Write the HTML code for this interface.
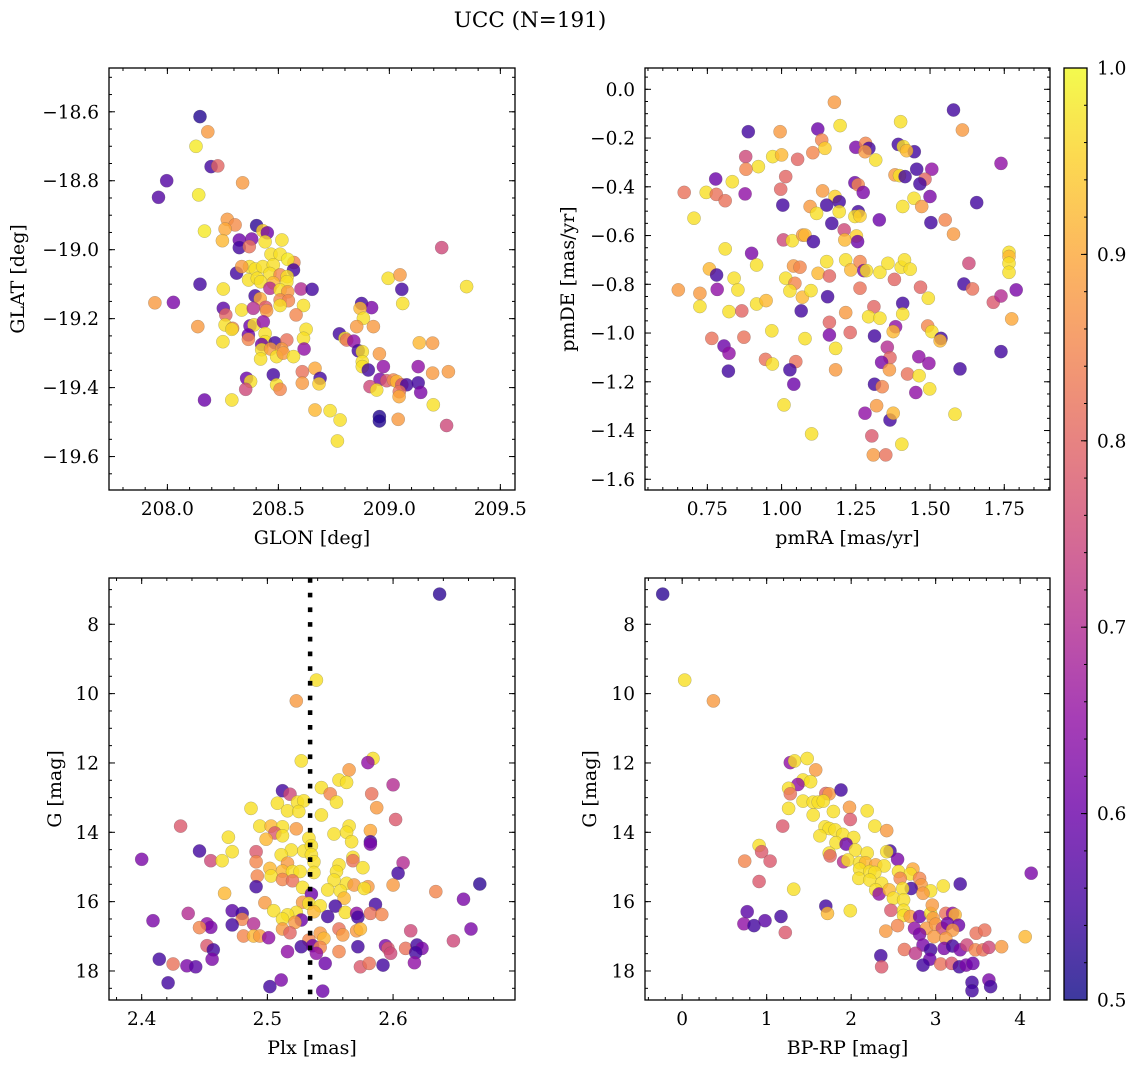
<!DOCTYPE html>
<html><head><meta charset="utf-8">
<style>
html,body{margin:0;padding:0;background:#fff;}
svg{display:block;font-family:"DejaVu Serif","Liberation Serif",serif;}
</style></head>
<body>
<svg id="fig" width="1136" height="1067" viewBox="0 0 1136 1067" xmlns="http://www.w3.org/2000/svg">
<text x="530" y="27" text-anchor="middle" font-size="21.5">UCC (N=191)</text>
</svg>
<script>
// ---------- data: [x, y, membership probability] ----------
const glonGlat = [[208.147,-18.614,0.52],[208.182,-18.658,0.88],[208.129,-18.70,0.98],[208.197,-18.759,0.55],[208.227,-18.757,0.8],[207.997,-18.80,0.57],[207.96,-18.848,0.57],[208.339,-18.806,0.88],[208.141,-18.841,0.98],[208.167,-18.946,0.98],[208.27,-18.912,0.88],[208.305,-18.928,0.86],[208.26,-18.94,0.9],[208.248,-18.974,0.92],[208.324,-18.972,0.6],[208.38,-18.969,0.62],[208.324,-18.994,0.55],[208.369,-18.991,0.82],[208.402,-18.93,0.53],[208.43,-18.945,0.95],[208.45,-18.951,0.6],[208.44,-18.977,0.97],[208.516,-18.972,0.97],[208.467,-19.013,0.97],[208.508,-19.013,0.97],[208.57,-19.037,0.85],[208.542,-19.028,0.98],[208.37,-19.049,0.97],[208.396,-19.056,0.97],[208.43,-19.049,0.97],[208.477,-19.044,0.97],[208.312,-19.068,0.55],[208.335,-19.049,0.88],[208.366,-19.088,0.97],[208.405,-19.083,0.97],[208.462,-19.069,0.97],[208.508,-19.073,0.85],[208.568,-19.059,0.55],[208.54,-19.078,0.97],[208.538,-19.093,0.97],[208.42,-19.093,0.97],[208.477,-19.096,0.92],[208.147,-19.10,0.55],[208.252,-19.114,0.97],[208.462,-19.112,0.7],[208.508,-19.117,0.97],[208.542,-19.122,0.88],[208.602,-19.114,0.7],[208.652,-19.115,0.55],[208.395,-19.134,0.55],[208.418,-19.142,0.9],[208.508,-19.146,0.85],[208.545,-19.148,0.85],[207.944,-19.154,0.88],[208.027,-19.153,0.62],[208.252,-19.17,0.58],[208.335,-19.175,0.97],[208.387,-19.17,0.7],[208.443,-19.167,0.78],[208.447,-19.177,0.88],[208.508,-19.162,0.97],[208.613,-19.162,0.97],[208.263,-19.189,0.8],[208.58,-19.189,0.85],[208.875,-19.156,0.55],[208.92,-19.168,0.62],[208.868,-19.17,0.92],[208.883,-19.199,0.97],[208.137,-19.223,0.88],[208.26,-19.218,0.97],[208.294,-19.228,0.85],[208.29,-19.231,0.97],[208.372,-19.221,0.6],[208.39,-19.218,0.97],[208.432,-19.209,0.65],[208.853,-19.223,0.88],[208.928,-19.223,0.88],[208.625,-19.231,0.97],[208.25,-19.267,0.97],[208.365,-19.247,0.6],[208.365,-19.26,0.85],[208.44,-19.243,0.97],[208.44,-19.267,0.97],[208.485,-19.27,0.55],[208.538,-19.262,0.82],[208.613,-19.257,0.97],[208.775,-19.244,0.55],[208.8,-19.257,0.97],[208.808,-19.262,0.82],[208.84,-19.265,0.65],[208.425,-19.275,0.6],[208.425,-19.29,0.97],[208.465,-19.288,0.88],[208.515,-19.288,0.88],[208.616,-19.288,0.65],[208.86,-19.293,0.55],[208.878,-19.296,0.97],[208.955,-19.302,0.88],[209.135,-19.27,0.92],[209.195,-19.271,0.88],[208.42,-19.317,0.97],[208.492,-19.31,0.97],[208.522,-19.30,0.88],[208.568,-19.31,0.97],[208.878,-19.325,0.97],[208.878,-19.339,0.97],[208.905,-19.349,0.55],[208.973,-19.339,0.65],[209.13,-19.339,0.65],[209.195,-19.358,0.88],[209.266,-19.354,0.88],[208.608,-19.354,0.82],[208.665,-19.344,0.9],[208.688,-19.373,0.55],[208.477,-19.363,0.55],[208.492,-19.392,0.97],[208.508,-19.405,0.85],[208.357,-19.373,0.6],[208.375,-19.382,0.97],[208.353,-19.405,0.75],[208.608,-19.387,0.88],[208.683,-19.389,0.95],[208.958,-19.376,0.62],[208.988,-19.38,0.78],[209.018,-19.378,0.85],[209.033,-19.382,0.92],[209.056,-19.392,0.78],[209.078,-19.392,0.55],[209.13,-19.386,0.55],[208.913,-19.397,0.75],[208.943,-19.407,0.97],[209.045,-19.412,0.82],[209.044,-19.426,0.9],[209.141,-19.414,0.62],[208.167,-19.436,0.6],[208.29,-19.436,0.97],[208.665,-19.465,0.92],[208.733,-19.467,0.97],[208.778,-19.494,0.97],[209.198,-19.45,0.97],[209.04,-19.492,0.88],[208.955,-19.484,0.52],[208.955,-19.497,0.52],[209.258,-19.51,0.75],[208.766,-19.555,0.97],[209.236,-18.994,0.75],[208.995,-19.083,0.97],[209.048,-19.073,0.88],[209.056,-19.115,0.55],[209.06,-19.156,0.97],[209.348,-19.107,0.97]];

const pmraPmde = [[1.178,-0.053,0.88],[1.579,-0.085,0.55],[1.197,-0.149,0.97],[1.401,-0.133,0.97],[0.888,-0.174,0.55],[0.995,-0.174,0.88],[1.122,-0.163,0.6],[1.609,-0.167,0.88],[1.135,-0.208,0.85],[1.146,-0.242,0.95],[1.25,-0.238,0.62],[1.283,-0.222,0.85],[1.294,-0.242,0.55],[1.281,-0.256,0.88],[1.393,-0.226,0.55],[1.41,-0.235,0.97],[1.447,-0.256,0.55],[1.421,-0.252,0.92],[1.317,-0.29,0.97],[1.739,-0.304,0.65],[0.879,-0.276,0.75],[0.97,-0.276,0.97],[1.0,-0.269,0.92],[1.054,-0.287,0.8],[1.105,-0.26,0.85],[0.922,-0.317,0.97],[0.88,-0.328,0.85],[1.455,-0.328,0.55],[1.506,-0.328,0.65],[1.014,-0.358,0.8],[0.778,-0.368,0.6],[0.834,-0.379,0.97],[1.382,-0.351,0.88],[1.397,-0.354,0.97],[1.416,-0.358,0.55],[1.483,-0.369,0.8],[1.466,-0.388,0.55],[1.247,-0.383,0.6],[1.258,-0.392,0.85],[1.275,-0.423,0.62],[0.672,-0.423,0.82],[0.746,-0.423,0.97],[0.78,-0.431,0.82],[0.81,-0.457,0.82],[0.877,-0.429,0.65],[0.997,-0.41,0.8],[1.138,-0.417,0.88],[1.18,-0.44,0.95],[1.194,-0.461,0.55],[1.152,-0.475,0.55],[1.096,-0.481,0.88],[1.118,-0.509,0.97],[1.194,-0.502,0.97],[1.004,-0.475,0.55],[1.258,-0.502,0.55],[1.247,-0.522,0.97],[1.264,-0.52,0.95],[1.408,-0.481,0.97],[1.446,-0.447,0.97],[1.472,-0.481,0.88],[1.5,-0.44,0.62],[1.657,-0.465,0.55],[0.705,-0.529,0.97],[1.169,-0.55,0.55],[1.329,-0.536,0.6],[1.503,-0.547,0.55],[1.551,-0.536,0.85],[1.579,-0.594,0.88],[1.211,-0.577,0.75],[1.252,-0.602,0.95],[1.256,-0.625,0.6],[1.213,-0.618,0.92],[1.006,-0.618,0.75],[1.036,-0.621,0.97],[1.071,-0.598,0.88],[1.079,-0.598,0.92],[1.107,-0.625,0.55],[0.81,-0.655,0.97],[0.899,-0.673,0.62],[0.757,-0.737,0.92],[0.916,-0.721,0.97],[0.781,-0.762,0.55],[0.84,-0.775,0.97],[0.783,-0.821,0.65],[0.652,-0.823,0.88],[0.725,-0.837,0.88],[0.853,-0.823,0.97],[0.725,-0.891,0.97],[0.823,-0.912,0.97],[0.866,-0.909,0.8],[0.916,-0.881,0.97],[0.948,-0.867,0.92],[1.014,-0.775,0.97],[1.04,-0.725,0.88],[1.062,-0.73,0.85],[1.045,-0.796,0.85],[1.028,-0.827,0.97],[1.07,-0.853,0.92],[1.099,-0.826,0.97],[1.066,-0.909,0.55],[1.123,-0.755,0.92],[1.152,-0.707,0.97],[1.161,-0.766,0.8],[1.155,-0.851,0.55],[1.216,-0.7,0.97],[1.233,-0.741,0.92],[1.264,-0.707,0.85],[1.277,-0.744,0.62],[1.286,-0.744,0.97],[1.331,-0.751,0.97],[1.358,-0.714,0.97],[1.403,-0.73,0.97],[1.414,-0.7,0.97],[1.433,-0.738,0.97],[1.264,-0.816,0.82],[1.38,-0.78,0.8],[1.468,-0.812,0.8],[1.494,-0.857,0.97],[1.408,-0.878,0.55],[1.408,-0.922,0.97],[1.631,-0.714,0.75],[1.614,-0.799,0.55],[1.643,-0.819,0.82],[1.713,-0.874,0.78],[1.739,-0.848,0.7],[1.79,-0.823,0.62],[1.766,-0.669,0.97],[1.766,-0.686,0.92],[1.766,-0.714,0.97],[1.766,-0.751,0.97],[1.775,-0.942,0.9],[1.739,-1.076,0.55],[1.216,-0.916,0.88],[1.311,-0.892,0.8],[1.293,-0.933,0.97],[1.331,-0.939,0.97],[0.765,-1.022,0.82],[0.806,-1.053,0.6],[0.823,-1.083,0.65],[0.873,-1.017,0.82],[0.967,-0.991,0.97],[1.079,-1.023,0.97],[1.161,-0.956,0.8],[1.161,-1.008,0.62],[1.231,-0.998,0.8],[1.313,-1.012,0.55],[1.384,-0.974,0.65],[1.376,-0.994,0.92],[1.492,-0.971,0.85],[1.506,-0.994,0.97],[1.537,-1.022,0.55],[1.534,-1.032,0.92],[1.182,-1.063,0.97],[0.946,-1.108,0.82],[0.969,-1.127,0.97],[1.048,-1.117,0.82],[0.821,-1.156,0.55],[1.028,-1.151,0.55],[1.041,-1.21,0.6],[1.182,-1.151,0.88],[1.356,-1.058,0.7],[1.365,-1.101,0.8],[1.337,-1.12,0.62],[1.363,-1.151,0.88],[1.424,-1.168,0.82],[1.462,-1.097,0.65],[1.496,-1.124,0.65],[1.463,-1.175,0.97],[1.499,-1.229,0.97],[1.452,-1.244,0.65],[1.601,-1.147,0.55],[1.313,-1.21,0.55],[1.339,-1.22,0.85],[1.008,-1.295,0.97],[1.281,-1.329,0.65],[1.32,-1.298,0.88],[1.365,-1.357,0.55],[1.376,-1.329,0.92],[1.584,-1.333,0.97],[1.101,-1.414,0.97],[1.304,-1.422,0.78],[1.405,-1.456,0.97],[1.309,-1.5,0.88],[1.351,-1.5,0.82]];

const plxG = [[2.637,7.13,0.53],[2.539,9.61,0.97],[2.523,10.21,0.88],[2.527,11.94,0.97],[2.584,11.87,0.97],[2.58,11.99,0.65],[2.565,12.2,0.88],[2.557,12.49,0.97],[2.563,12.56,0.97],[2.6,12.63,0.7],[2.512,12.8,0.55],[2.518,12.9,0.75],[2.543,12.71,0.97],[2.55,12.89,0.85],[2.555,13.13,0.97],[2.583,12.89,0.82],[2.508,13.16,0.97],[2.524,13.13,0.97],[2.529,13.09,0.97],[2.487,13.31,0.97],[2.516,13.38,0.97],[2.525,13.4,0.97],[2.543,13.5,0.97],[2.587,13.29,0.88],[2.602,13.63,0.78],[2.431,13.82,0.78],[2.494,13.82,0.97],[2.503,13.82,0.92],[2.512,13.84,0.97],[2.523,13.9,0.88],[2.565,13.82,0.97],[2.582,13.95,0.9],[2.506,14.02,0.78],[2.512,14.1,0.97],[2.553,14.05,0.97],[2.563,14.0,0.97],[2.469,14.14,0.97],[2.533,14.17,0.97],[2.499,14.2,0.92],[2.567,14.27,0.97],[2.582,14.27,0.55],[2.582,14.34,0.62],[2.446,14.54,0.55],[2.472,14.56,0.97],[2.491,14.56,0.78],[2.519,14.51,0.97],[2.529,14.54,0.97],[2.535,14.39,0.97],[2.511,14.65,0.97],[2.535,14.65,0.97],[2.4,14.78,0.62],[2.455,14.82,0.75],[2.464,14.82,0.97],[2.491,14.85,0.85],[2.516,14.89,0.88],[2.537,14.85,0.97],[2.568,14.72,0.97],[2.568,14.82,0.82],[2.557,14.94,0.97],[2.608,14.88,0.7],[2.576,15.02,0.97],[2.502,15.04,0.92],[2.512,15.12,0.92],[2.52,15.13,0.97],[2.526,15.13,0.97],[2.537,15.16,0.97],[2.555,15.13,0.97],[2.604,15.18,0.55],[2.492,15.26,0.85],[2.503,15.26,0.97],[2.512,15.36,0.85],[2.52,15.4,0.82],[2.553,15.38,0.97],[2.563,15.47,0.97],[2.569,15.52,0.88],[2.58,15.57,0.88],[2.6,15.52,0.88],[2.491,15.57,0.55],[2.528,15.59,0.97],[2.548,15.66,0.97],[2.558,15.69,0.97],[2.577,15.62,0.97],[2.669,15.49,0.53],[2.634,15.71,0.85],[2.466,15.76,0.92],[2.535,15.78,0.6],[2.561,15.9,0.92],[2.656,15.93,0.62],[2.498,16.03,0.88],[2.528,16.02,0.88],[2.533,16.05,0.97],[2.542,16.12,0.97],[2.554,16.13,0.55],[2.586,16.08,0.55],[2.505,16.26,0.97],[2.523,16.31,0.97],[2.537,16.29,0.92],[2.562,16.31,0.97],[2.437,16.34,0.7],[2.472,16.26,0.58],[2.48,16.34,0.55],[2.571,16.34,0.65],[2.582,16.34,0.82],[2.591,16.37,0.85],[2.516,16.38,0.97],[2.409,16.55,0.62],[2.48,16.51,0.85],[2.512,16.5,0.97],[2.527,16.53,0.6],[2.548,16.43,0.55],[2.572,16.45,0.55],[2.452,16.64,0.65],[2.455,16.74,0.62],[2.446,16.75,0.85],[2.472,16.67,0.55],[2.489,16.64,0.7],[2.522,16.6,0.88],[2.512,16.79,0.88],[2.557,16.79,0.82],[2.571,16.84,0.88],[2.574,16.79,0.92],[2.614,16.84,0.75],[2.662,16.79,0.62],[2.481,16.99,0.85],[2.489,16.99,0.92],[2.494,16.99,0.88],[2.501,17.04,0.65],[2.518,16.9,0.8],[2.533,17.11,0.85],[2.542,16.91,0.88],[2.545,17.06,0.92],[2.56,16.96,0.88],[2.648,17.13,0.75],[2.452,17.27,0.78],[2.457,17.39,0.55],[2.527,17.3,0.55],[2.536,17.27,0.6],[2.542,17.32,0.85],[2.572,17.3,0.55],[2.594,17.27,0.62],[2.596,17.35,0.78],[2.598,17.49,0.75],[2.61,17.35,0.82],[2.619,17.25,0.55],[2.623,17.35,0.62],[2.618,17.47,0.55],[2.516,17.44,0.65],[2.539,17.49,0.65],[2.557,17.44,0.85],[2.414,17.66,0.55],[2.425,17.8,0.82],[2.436,17.85,0.62],[2.443,17.88,0.58],[2.456,17.66,0.62],[2.546,17.78,0.6],[2.574,17.88,0.78],[2.581,17.78,0.82],[2.592,17.83,0.55],[2.617,17.76,0.65],[2.421,18.34,0.55],[2.502,18.45,0.55],[2.511,18.26,0.62],[2.544,18.58,0.6]];

const colorG = [[-0.23,7.13,0.53],[0.03,9.61,0.97],[0.37,10.21,0.88],[1.28,11.99,0.65],[1.33,11.94,0.97],[1.48,11.87,0.97],[1.58,12.2,0.88],[1.43,12.49,0.97],[1.52,12.54,0.97],[1.37,12.62,0.65],[1.26,12.73,0.97],[1.28,12.89,0.82],[1.7,12.88,0.8],[1.74,12.89,0.88],[1.88,12.78,0.55],[1.43,13.1,0.97],[1.55,13.13,0.97],[1.61,13.13,0.97],[1.67,13.1,0.97],[1.26,13.31,0.97],[1.55,13.5,0.97],[1.79,13.4,0.97],[1.98,13.28,0.88],[2.19,13.38,0.97],[1.99,13.63,0.78],[1.19,13.82,0.78],[1.69,13.84,0.97],[1.74,13.89,0.97],[1.81,13.93,0.97],[1.9,14.06,0.97],[1.63,14.1,0.97],[2.03,14.15,0.97],[2.28,13.82,0.97],[2.42,13.95,0.88],[0.91,14.38,0.97],[0.94,14.56,0.78],[1.82,14.3,0.97],[1.94,14.34,0.6],[2.05,14.51,0.97],[2.19,14.6,0.97],[2.46,14.54,0.55],[2.42,14.56,0.97],[2.55,14.78,0.62],[1.74,14.6,0.97],[1.75,14.68,0.8],[0.74,14.83,0.85],[1.04,14.83,0.78],[1.91,14.85,0.7],[1.96,14.8,0.97],[2.1,14.88,0.97],[2.17,14.88,0.92],[2.29,14.94,0.9],[2.39,14.97,0.97],[2.1,15.06,0.97],[2.22,15.13,0.97],[2.28,15.16,0.97],[2.56,15.13,0.97],[2.73,15.06,0.9],[2.7,15.2,0.97],[2.09,15.33,0.97],[2.22,15.38,0.97],[2.36,15.47,0.97],[2.58,15.33,0.85],[2.81,15.33,0.85],[2.83,15.52,0.88],[2.71,15.62,0.55],[2.61,15.62,0.97],[2.29,15.66,0.97],[2.33,15.78,0.65],[2.45,15.66,0.92],[3.29,15.49,0.55],[3.09,15.55,0.97],[2.94,15.69,0.97],[2.85,15.76,0.88],[2.5,15.9,0.97],[2.62,15.95,0.97],[4.13,15.18,0.62],[0.91,15.42,0.78],[1.32,15.64,0.97],[1.7,16.13,0.55],[1.72,16.34,0.92],[1.99,16.26,0.97],[0.77,16.29,0.58],[1.17,16.43,0.55],[0.73,16.64,0.65],[0.85,16.69,0.55],[0.98,16.55,0.58],[1.22,16.89,0.78],[2.47,16.25,0.78],[2.62,16.25,0.97],[2.62,16.4,0.97],[2.7,16.43,0.88],[2.81,16.43,0.6],[2.94,16.34,0.97],[2.96,16.1,0.88],[2.97,16.48,0.88],[3.12,16.34,0.82],[3.2,16.34,0.65],[3.23,16.38,0.92],[2.55,16.69,0.85],[2.75,16.77,0.65],[2.89,16.77,0.88],[3.0,16.65,0.88],[3.08,16.77,0.75],[3.14,16.63,0.6],[3.27,16.68,0.6],[3.2,16.82,0.88],[2.41,16.85,0.88],[2.81,16.94,0.62],[2.98,17.01,0.88],[3.12,17.06,0.88],[3.48,16.91,0.82],[3.58,16.82,0.82],[4.06,17.01,0.92],[2.63,17.38,0.82],[2.85,17.25,0.62],[2.94,17.39,0.55],[3.1,17.35,0.62],[3.2,17.28,0.55],[3.29,17.39,0.62],[3.37,17.25,0.75],[3.47,17.39,0.85],[3.56,17.39,0.82],[3.63,17.32,0.75],[3.78,17.3,0.88],[2.76,17.49,0.72],[2.93,17.66,0.6],[2.85,17.83,0.55],[3.06,17.8,0.82],[3.19,17.78,0.78],[3.28,17.88,0.55],[3.36,17.83,0.62],[3.44,17.78,0.6],[2.35,17.56,0.55],[2.36,17.88,0.78],[3.43,18.33,0.55],[3.43,18.57,0.55],[3.63,18.26,0.62],[3.65,18.45,0.55]];

const plxCut = 2.534;
const cbarTicks = [0.5,0.6,0.7,0.8,0.9,1.0];

const NS = "http://www.w3.org/2000/svg";
const svg = document.getElementById('fig');
function mk(tag, attrs, parent){ const e=document.createElementNS(NS,tag); for(const k in attrs) e.setAttribute(k,attrs[k]); (parent||svg).appendChild(e); return e; }

const stops=[[0,[13,8,135]],[0.1,[65,4,157]],[0.2,[106,0,168]],[0.3,[143,13,164]],[0.4,[177,42,144]],[0.5,[204,71,120]],[0.6,[225,100,98]],[0.7,[242,132,75]],[0.8,[252,166,54]],[0.9,[252,206,37]],[1.0,[240,249,33]]];
function plasma(t){ t=Math.max(0,Math.min(1,t)); for(let i=1;i<stops.length;i++){ if(t<=stops[i][0]){ const a=stops[i-1],b=stops[i]; const f=(t-a[0])/(b[0]-a[0]); const c=a[1].map((v,j)=>Math.round(v+(b[1][j]-v)*f)); return `rgb(${c[0]},${c[1]},${c[2]})`; } } return 'rgb(240,249,33)'; }
function cmap(p){ return plasma((p-0.5)/0.5); }
function fmtMinus(s){ return s.replace('-','\u2212'); }

const TICKFS = 18.5, LABFS = 19;

function panel(cfg){
  const [L,T,R,B]=cfg.box;
  const g=mk('g',{});
  
  
  const sx=v=>L+(v-cfg.xd[0])/(cfg.xd[1]-cfg.xd[0])*(R-L);
  const sy=v=>T+(v-cfg.yd[0])/(cfg.yd[1]-cfg.yd[0])*(B-T);
  const clip=mk('clipPath',{id:'c'+cfg.name},g);
  mk('rect',{x:L,y:T,width:R-L,height:B-T},clip);
  const pts=mk('g',{'clip-path':`url(#c${cfg.name})`},g);
  cfg.data.forEach(d=>{
    const c=mk('circle',{cx:sx(d[0]).toFixed(1),cy:sy(d[1]).toFixed(1),r:6.6,fill:cmap(d[2]),'fill-opacity':0.8,stroke:'#555','stroke-opacity':0.5,'stroke-width':0.4},pts);
    
    
  });
  if(cfg.vline!==undefined){
    const l=mk('line',{x1:sx(cfg.vline),x2:sx(cfg.vline),y1:T,y2:B,stroke:'#000','stroke-width':4.5,'stroke-dasharray':'4.7 10'},g);
    
    
  }
  const tk=mk('g',{stroke:'#000','stroke-width':1},g);
  function minors(d0,d1,step){ const a=[]; const s=Math.ceil(Math.min(d0,d1)/step-1e-6); const e=Math.floor(Math.max(d0,d1)/step+1e-6); for(let i=s;i<=e;i++) a.push(i*step); return a; }
  minors(cfg.xd[0],cfg.xd[1],cfg.xminor).forEach(v=>{const x=sx(v); mk('line',{x1:x,x2:x,y1:B,y2:B-3},tk); mk('line',{x1:x,x2:x,y1:T,y2:T+3},tk);});
  minors(cfg.yd[0],cfg.yd[1],cfg.yminor).forEach(v=>{const y=sy(v); mk('line',{x1:L,x2:L+3,y1:y,y2:y},tk); mk('line',{x1:R,x2:R-3,y1:y,y2:y},tk);});
  cfg.xticks.forEach((v,i)=>{const x=sx(v); mk('line',{x1:x,x2:x,y1:B,y2:B-6},tk); mk('line',{x1:x,x2:x,y1:T,y2:T+6},tk);
    const t=mk('text',{x:x,y:B+25,'text-anchor':'middle','font-size':TICKFS},g); t.textContent=cfg.xlabels[i];
     });
  cfg.yticks.forEach((v,i)=>{const y=sy(v); mk('line',{x1:L,x2:L+6,y1:y,y2:y},tk); mk('line',{x1:R,x2:R-6,y1:y,y2:y},tk);
    const t=mk('text',{x:L-10,y:y+6.5,'text-anchor':'end','font-size':TICKFS},g); t.textContent=fmtMinus(cfg.ylabels[i]);
     });
  const fr=mk('rect',{x:L,y:T,width:R-L,height:B-T,fill:'none',stroke:'#000','stroke-width':1.3},g);
   
  const xt=mk('text',{x:(L+R)/2,y:B+54,'text-anchor':'middle','font-size':LABFS},g); xt.textContent=cfg.xtitle;
   
  const yt=mk('text',{x:0,y:0,'text-anchor':'middle','font-size':LABFS,transform:`translate(${cfg.ytx},${(T+B)/2}) rotate(-90)`},g); yt.textContent=cfg.ytitle;
   
}

panel({name:'glon-glat-panel',box:[109,68,515,490],xd:[207.737,209.566],yd:[-18.473,-19.697],data:glonGlat,
  xticks:[208,208.5,209,209.5],xlabels:['208.0','208.5','209.0','209.5'],xminor:0.1,
  yticks:[-18.6,-18.8,-19.0,-19.2,-19.4,-19.6],ylabels:['-18.6','-18.8','-19.0','-19.2','-19.4','-19.6'],yminor:0.05,
  xtitle:'GLON [deg]',ytitle:'GLAT [deg]',ytx:24});
panel({name:'pm-panel',box:[645,68,1050,490],xd:[0.540,1.904],yd:[0.0874,-1.644],data:pmraPmde,
  xticks:[0.75,1.0,1.25,1.5,1.75],xlabels:['0.75','1.00','1.25','1.50','1.75'],xminor:0.05,
  yticks:[0,-0.2,-0.4,-0.6,-0.8,-1.0,-1.2,-1.4,-1.6],ylabels:['0.0','-0.2','-0.4','-0.6','-0.8','-1.0','-1.2','-1.4','-1.6'],yminor:0.05,
  xtitle:'pmRA [mas/yr]',ytitle:'pmDE [mas/yr]',ytx:574});
panel({name:'plx-g-panel',box:[109,578,515,1000],xd:[2.374,2.697],yd:[6.665,18.837],data:plxG,vline:plxCut,
  xticks:[2.4,2.5,2.6],xlabels:['2.4','2.5','2.6'],xminor:0.02,
  yticks:[8,10,12,14,16,18],ylabels:['8','10','12','14','16','18'],yminor:0.5,
  xtitle:'Plx [mas]',ytitle:'G [mag]',ytx:61});
panel({name:'cmd-panel',box:[645,578,1050,1000],xd:[-0.44,4.353],yd:[6.665,18.837],data:colorG,
  xticks:[0,1,2,3,4],xlabels:['0','1','2','3','4'],xminor:0.2,
  yticks:[8,10,12,14,16,18],ylabels:['8','10','12','14','16','18'],yminor:0.5,
  xtitle:'BP-RP [mag]',ytitle:'G [mag]',ytx:596});

// colorbar
(function(){
  const L=1064,R=1087,T=68,B=1000;
  const defs=mk('defs',{});
  const lg=mk('linearGradient',{id:'cbg',x1:0,y1:1,x2:0,y2:0},defs);
  for(let i=0;i<=20;i++){ mk('stop',{offset:i/20,'stop-color':plasma(i/20)},lg); }
  const g=mk('g',{});
  
  
  mk('rect',{x:L,y:T,width:R-L,height:B-T,fill:'url(#cbg)','fill-opacity':0.8},g);
  const sy=v=>B-(v-0.5)/0.5*(B-T);
  for(let v=0.5;v<=1.0001;v+=0.02){ const y=sy(v); mk('line',{x1:R,x2:R-3,y1:y,y2:y,stroke:'#000'},g); }
  cbarTicks.forEach(v=>{ const y=sy(v); mk('line',{x1:R,x2:R-6,y1:y,y2:y,stroke:'#000'},g);
    const t=mk('text',{x:R+10,y:y+6.5,'font-size':TICKFS},g); t.textContent=v.toFixed(1);
      });
  mk('rect',{x:L,y:T,width:R-L,height:B-T,fill:'none',stroke:'#000','stroke-width':1.3},g);
})();
</script>
</body></html>
